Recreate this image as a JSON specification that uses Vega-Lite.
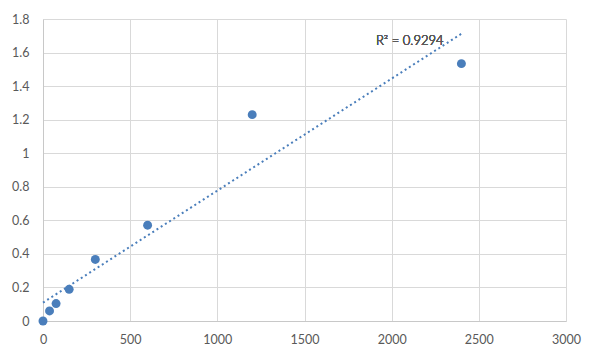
{
  "$schema": "https://vega.github.io/schema/vega-lite/v6.json",
  "autosize": "none",
  "width": 523,
  "height": 302,
  "padding": {"left": 43, "top": 19, "right": 34, "bottom": 40},
  "background": "white",
  "config": {
    "view": {"stroke": null},
    "font": "Lato",
    "axis": {
      "labelFont": "Lato",
      "labelFontSize": 12.5,
      "labelColor": "#595959",
      "labelOverlap": false,
      "labelFlush": false,
      "gridColor": "#d9d9d9",
      "gridWidth": 1,
      "domainColor": "#c8c8c8",
      "ticks": false,
      "title": null
    }
  },
  "data": {
    "values": [
      {"conc": 0, "od": 0},
      {"conc": 37.5, "od": 0.06},
      {"conc": 75, "od": 0.104},
      {"conc": 150, "od": 0.189},
      {"conc": 300, "od": 0.367},
      {"conc": 600, "od": 0.571},
      {"conc": 1200, "od": 1.23},
      {"conc": 2400, "od": 1.534}
    ]
  },
  "encoding": {
    "x": {"field": "conc", "type": "quantitative", "scale": {"domain": [0, 3000], "nice": false},
      "axis": {"values": [0, 500, 1000, 1500, 2000, 2500, 3000], "labelPadding": 12, "grid": true, "format": "d"}},
    "y": {"field": "od", "type": "quantitative", "scale": {"domain": [0, 1.8], "nice": false},
      "axis": {"values": [0, 0.2, 0.4, 0.6, 0.8, 1, 1.2, 1.4, 1.6, 1.8], "labelPadding": 14, "grid": true, "format": ".1~f"}}
  },
  "layer": [
    {
      "transform": [{"regression": "od", "on": "conc"}],
      "mark": {"type": "line", "color": "#4a7ebb", "strokeDash": [2, 3], "strokeWidth": 2}
    },
    {
      "mark": {"type": "point", "filled": true, "color": "#4a7ebb", "size": 80, "opacity": 1}
    },
    {
      "mark": {"type": "text", "align": "left", "baseline": "middle", "font": "Lato", "fontSize": 13, "fontWeight": 300, "color": "#595959"},
      "encoding": {
        "x": {"datum": 1910},
        "y": {"datum": 1.67},
        "text": {"value": "R² = 0.9294"}
      }
    }
  ]
}
